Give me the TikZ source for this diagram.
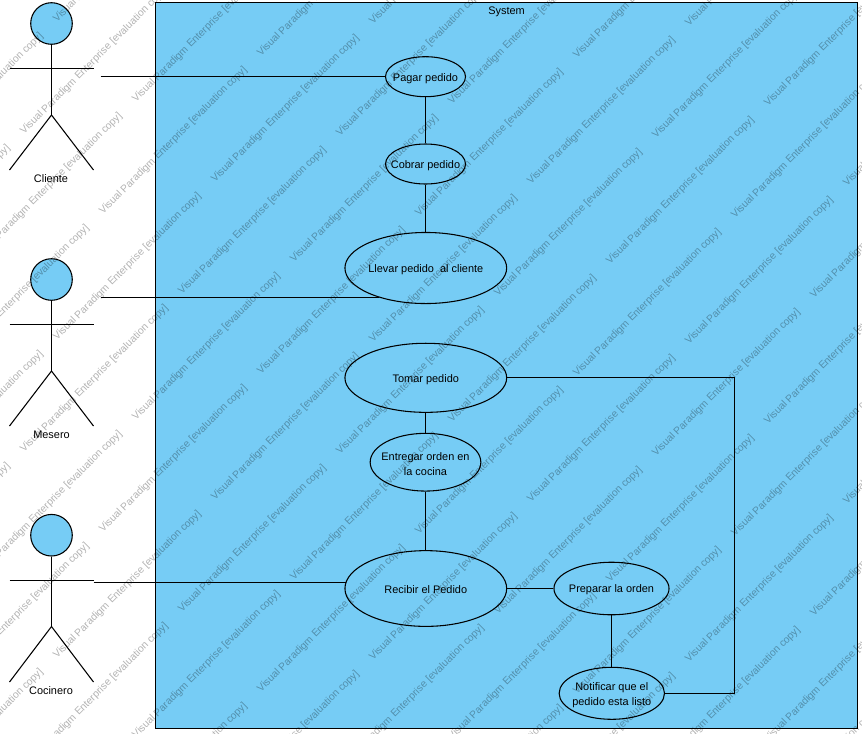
\documentclass[tikz,border=0pt]{standalone}
\usepackage{fontspec}
\setmainfont{Liberation Sans}
\usetikzlibrary{shapes.geometric}
\definecolor{uc}{RGB}{118,204,245}
\newcommand{\ulab}[1]{\makebox[0pt]{\raisebox{-1.1pt}[\height][\depth]{#1}}}
\tikzset{
  ucase/.style={ellipse,draw=black,fill=uc,line width=0.8pt,inner sep=0pt,align=center,font=\fontsize{8.2pt}{11.25pt}\selectfont},
  link/.style={draw=black,line width=0.8pt},
  limb/.style={draw=black,line width=0.8pt},
  head/.style={circle,draw=black,fill=uc,line width=0.8pt,minimum size=31.2pt,inner sep=0pt},
  actorname/.style={font=\fontsize{8.2pt}{10pt}\selectfont,inner sep=0pt},
  wmark/.style={font=\fontsize{7.7pt}{9pt}\selectfont,text=black,text opacity=0.3,rotate=45,anchor=west,inner sep=0pt}
}
\begin{document}
\begin{tikzpicture}[x=0.75pt,y=-0.75pt]
\useasboundingbox (0,0) rectangle (862,733);
\clip (0,0) rectangle (862,733);
\node[draw=black,fill=uc,line width=0.8pt,inner sep=0pt,outer sep=0pt,minimum width=526.5pt,minimum height=544.5pt,anchor=north west] (sys) at (155.5,2.5) {};
\node[actorname] (systitle) at (506.5,11.5) {System};
% actors
\node[head] (h1) at (51.5,23.5) {};
\coordinate (hip1) at (51.5,115);
\coordinate (armL1) at (9.5,68.5);
\coordinate (armR1) at (93.5,68.5);
\coordinate (footL1) at (9.5,170);
\coordinate (footR1) at (93.5,170);
\node[actorname] (cliente) at (51,179) {Cliente};
\node[head] (h2) at (51.5,279.5) {};
\coordinate (hip2) at (51.5,371);
\coordinate (armL2) at (9.5,324.5);
\coordinate (armR2) at (93.5,324.5);
\coordinate (footL2) at (9.5,426);
\coordinate (footR2) at (93.5,426);
\node[actorname] (mesero) at (51.5,435) {Mesero};
\node[head] (h3) at (51.5,535.2) {};
\coordinate (hip3) at (51.5,626.5);
\coordinate (armL3) at (9.5,580.5);
\coordinate (armR3) at (93.5,580.5);
\coordinate (footL3) at (9.5,682);
\coordinate (footR3) at (93.5,682);
\node[actorname] (cocinero) at (51,690.5) {Cocinero};
\foreach \n in {1,2,3}{
  \draw[limb] (h\n.south) -- (hip\n);
  \draw[limb] (armL\n) -- (armR\n);
  \draw[limb] (footL\n) -- (hip\n) -- (footR\n);
}
% use cases
\node[ucase,minimum width=60pt,minimum height=30pt] (pagar) at (425.5,76.7) {\ulab{Pagar pedido}};
\node[ucase,minimum width=60pt,minimum height=30pt] (cobrar) at (425.5,164) {\ulab{Cobrar pedido}};
\node[ucase,minimum width=121.3pt,minimum height=53.3pt] (llevar) at (425.8,268) {\ulab{Llevar pedido\ \ al cliente}};
\node[ucase,minimum width=121.3pt,minimum height=51.8pt] (tomar) at (425.8,377.8) {\ulab{Tomar pedido}};
\node[ucase,minimum width=83pt,minimum height=43.3pt] (entregar) at (425.5,462.2) {\ulab{Entregar orden en}\\\ulab{la cocina}};
\node[ucase,minimum width=121.3pt,minimum height=56.8pt] (recibir) at (425.8,588.5) {\ulab{Recibir el Pedido}};
\node[ucase,minimum width=86.3pt,minimum height=39.4pt] (preparar) at (611.5,588.5) {\ulab{Preparar la orden}};
\node[ucase,minimum width=79pt,minimum height=39pt] (notificar) at (611.8,693.3) {\ulab{Notificar que el}\\\ulab{pedido esta listo}};
% connectors
\coordinate (a1) at (100.5,76.5);
\coordinate (a2) at (100.5,297.5);
\coordinate (a3) at (93.5,582.5);
\coordinate (turn1) at (734.5,377.5);
\coordinate (turn2) at (734.5,693.5);
\draw[link] (a1) -- (a1 -| pagar.west);
\draw[link] (a2) -- (a2 -| llevar.212);
\draw[link] (a3) -- (a3 -| recibir.175);
\draw[link] (pagar) -- (cobrar);
\draw[link] (cobrar.south) -- (cobrar.south |- llevar.north);
\draw[link] (entregar.north) -- (entregar.north |- tomar.south);
\draw[link] (entregar.south) -- (entregar.south |- recibir.north);
\draw[link] (recibir) -- (preparar);
\draw[link] (preparar.south) -- (preparar.south |- notificar.north);
\draw[link] (turn1 -| tomar.east) -- (turn1) -- (turn2) -- (turn2 -| notificar.east);
% watermark
\foreach \a in {-4,...,4}{
  \foreach \b in {-8,...,12}{
    \foreach \bx/\by/\k in {22/133/p,134/101/q}{
      \pgfmathtruncatemacro{\wx}{\bx+237*\a+79*\b}
      \pgfmathtruncatemacro{\wy}{\by-78*\a+80*\b}
      \pgfmathtruncatemacro{\show}{and(and(\wx>-160,\wx<870),and(\wy>-10,\wy<900))}
      \ifnum\show=1
        \node[wmark] (wm\k\a\b) at (\wx,\wy) {Visual Paradigm Enterprise [evaluation copy]};
      \fi
    }
  }
}
\end{tikzpicture}
\end{document}
